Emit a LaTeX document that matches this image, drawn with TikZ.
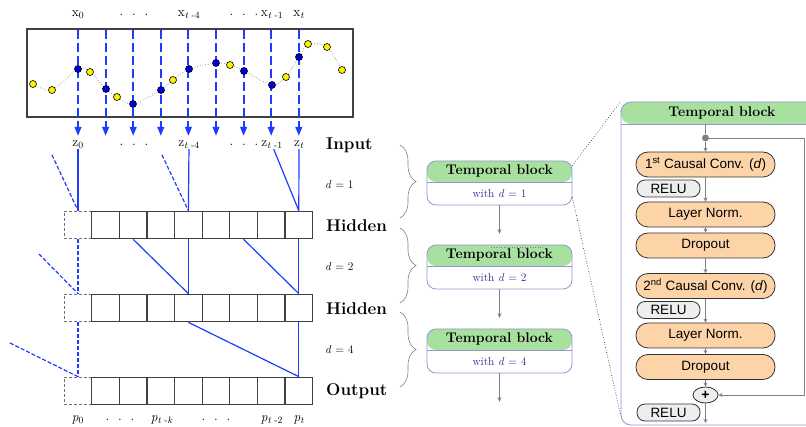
\documentclass[tikz,border=0pt]{standalone}
\usepackage{fontspec}
\newfontfamily\arialfont{Liberation Sans}
\usepackage{tikz}
\usetikzlibrary{arrows.meta,decorations.pathreplacing,shapes}

\definecolor{tbgreen}{RGB}{168,224,160}
\definecolor{tbline}{RGB}{150,150,205}
\definecolor{opfill}{RGB}{253,211,168}
\definecolor{relufill}{RGB}{238,238,238}
\definecolor{gridline}{RGB}{64,64,64}
\definecolor{subblue}{RGB}{40,40,150}
\definecolor{flowgray}{RGB}{128,128,128}
\definecolor{dotblue}{RGB}{0,0,220}
\definecolor{dotyellow}{RGB}{255,240,0}
\definecolor{lineblue}{RGB}{30,60,255}

\begin{document}
\begin{tikzpicture}[x=1pt,y=-1pt,
  cnode/.style={draw=gridline, line width=1.1pt, minimum size=27.6pt, inner sep=0pt},
  pnode/.style={cnode, draw=gridline!75, dash pattern=on 3pt off 2pt},
  bline/.style={lineblue, line width=1.2pt},
  bdash/.style={bline, dash pattern=on 4pt off 2pt},
  barrow/.style={lineblue, line width=2pt, dash pattern=on 9pt off 4pt, -{Triangle[width=6.5pt,length=9pt]}},
  lnode/.style={inner sep=0pt, font=\fontsize{13.5}{15}\selectfont},
  rnode/.style={anchor=west, inner sep=0pt, font=\fontsize{17}{20}\selectfont\bfseries},
  dnode/.style={anchor=west, inner sep=0pt, font=\fontsize{11.5}{14}\selectfont},
  dot/.style={circle, draw=black, line width=0.6pt, inner sep=0pt, minimum size=7pt},
  tblock/.style={draw=tbline, line width=0.8pt, rounded corners=9pt, inner sep=0pt,
    path picture={
      \fill[tbgreen] (path picture bounding box.north west) rectangle ([yshift=-#1]path picture bounding box.north east);
      \draw[tbline, line width=0.8pt] ([yshift=-#1]path picture bounding box.north west) -- ([yshift=-#1]path picture bounding box.north east);}},
  ttext/.style={inner sep=0pt, font=\fontsize{14}{16}\selectfont\bfseries},
  stext/.style={inner sep=0pt, text=subblue, font=\fontsize{11.5}{14}\selectfont},
  garrow/.style={flowgray, line width=0.9pt, -{Stealth[length=5pt,width=4pt]}},
  brace/.style={draw=flowgray, line width=0.6pt, decorate, decoration={brace, amplitude=16pt}},
  zline/.style={black, line width=0.6pt, dotted},
  opbox/.style={draw=black!80, line width=0.8pt, fill=opfill, rounded corners=12pt, minimum width=139pt, minimum height=25pt, inner sep=0pt, font=\arialfont\fontsize{13.5}{16}\selectfont},
  relubox/.style={draw=black!80, line width=0.8pt, fill=relufill, rounded corners=8pt, minimum width=63pt, minimum height=17pt, inner sep=0pt, font=\arialfont\fontsize{13.5}{16}\selectfont},
  flow/.style={flowgray, line width=0.8pt},
  farrow/.style={flow, -{Stealth[length=4pt,width=4pt]}}]

\clip (0,0) rectangle (806,427);

% input series
\draw[gridline, line width=1.1pt] (27,29) rectangle (353,117);
\draw[flowgray, line width=0.7pt, dotted] plot[smooth] coordinates {(33,84) (52,90) (78,69) (90,72) (106,89) (117,97) (133,104) (161,90) (173,80) (189,69) (216,63) (230,65) (244,71) (272,85) (286,77) (299,57) (308,44) (327,47) (342,70)};
\foreach \i in {0,...,8}
  \draw[barrow] (78+27.6*\i,30) -- (78+27.6*\i,136);
\foreach \x/\y/\c in {33/84/dotyellow, 52/90/dotyellow, 78/69/dotblue, 90/72/dotyellow, 106/89/dotblue, 117/97/dotyellow, 133/104/dotblue, 161/90/dotblue, 173/80/dotyellow, 189/69/dotblue, 216/63/dotblue, 230/65/dotyellow, 244/71/dotblue, 272/85/dotblue, 286/77/dotyellow, 299/57/dotblue, 308/44/dotyellow, 327/47/dotyellow, 342/70/dotyellow}
  \node[dot, fill=\c] at (\x,\y) {};

\node[lnode] (x0) at (78,15) {x\textsubscript{0}};
\node[lnode] (xd1) at (134,15) {.\ \ .\ \ .};
\node[lnode] (xt4) at (189,15) {x\textsubscript{\textit{t} -4}};
\node[lnode] (xd2) at (244,15) {.\ \ .\ \ .};
\node[lnode] (xt1) at (272,15) {x\textsubscript{\textit{t} -1}};
\node[lnode] (xt) at (299,15) {x\textsubscript{\textit{t}}};

\node[lnode] (z0) at (78,145) {z\textsubscript{0}};
\node[lnode] (zd1) at (134,145) {.\ \ .\ \ .};
\node[lnode] (zt4) at (189,145) {z\textsubscript{\textit{t} -4}};
\node[lnode] (zd2) at (244,145) {.\ \ .\ \ .};
\node[lnode] (zt1) at (272,145) {z\textsubscript{\textit{t} -1}};
\node[lnode] (zt) at (299,145) {z\textsubscript{\textit{t}}};

% layers
\foreach \r/\y in {1/225,2/308,3/391}{
  \node[pnode] (r\r-0) at (78,\y) {};
  \foreach \c in {1,...,8}
    \node[cnode] (r\r-\c) at (78+27.6*\c,\y) {};
}

\coordinate (f1a) at (52,155);
\coordinate (f1b) at (162,155);
\coordinate (f2a) at (39,254);
\coordinate (f3a) at (10,343);

\draw[bline] (z0) -- (r1-0.north);
\draw[bdash] (f1a) -- (r1-0.north);
\draw[bline] (zt4) -- (r1-4.north);
\draw[bdash] (f1b) -- (r1-4.north);
\draw[bline] (zt1) -- (r1-8.north);
\draw[bline] (zt) -- (r1-8.north);

\draw[bdash] (r1-0.south) -- (r2-0.north);
\draw[bdash] (f2a) -- (r2-0.north);
\draw[bline] (r1-2.south) -- (r2-4.north);
\draw[bline] (r1-4.south) -- (r2-4.north);
\draw[bline] (r1-6.south) -- (r2-8.north);
\draw[bline] (r1-8.south) -- (r2-8.north);

\draw[bdash] (r2-0.south) -- (r3-0.north);
\draw[bdash] (f3a) -- (r3-0.north);
\draw[bline] (r2-4.south) -- (r3-8.north);
\draw[bline] (r2-8.south) -- (r3-8.north);

\node[lnode] (p0) at (78,420) {\textit{p}\textsubscript{0}};
\node[lnode] (pd1) at (120,420) {.\ \ .\ \ .};
\node[lnode] (ptk) at (162,420) {\textit{p}\textsubscript{\textit{t} -\textit{k}}};
\node[lnode] (pd2) at (216,420) {.\ \ .\ \ .};
\node[lnode] (pt2) at (272,420) {\textit{p}\textsubscript{\textit{t} -2}};
\node[lnode] (pt) at (299,420) {\textit{p}\textsubscript{\textit{t}}};

\node[rnode] (inp) at (326,145) {Input};
\node[rnode] (hid1) at (326,226) {Hidden};
\node[rnode] (hid2) at (326,309) {Hidden};
\node[rnode] (outp) at (326,391) {Output};
\node[dnode] (d1) at (325,185) {\textit{d} = 1};
\node[dnode] (d2) at (325,267) {\textit{d} = 2};
\node[dnode] (d4) at (325,350) {\textit{d} = 4};

\draw[brace] (400,145) -- (400,218);
\draw[brace] (400,228) -- (400,303);
\draw[brace] (400,312) -- (400,387);

% stacked blocks
\foreach \i/\y/\d in {1/161/1, 2/245/2, 3/329/4}{
  \node[tblock=21pt, minimum width=145pt, minimum height=44pt] (tb\i) at (499.5,\y+22) {};
  \node[ttext] (tb\i t) at (499.5,\y+10.5) {Temporal block};
  \node[stext] (tb\i s) at (499.5,\y+32.5) {with \textit{d} = \d};
  \coordinate (tb\i o) at (499.5,\y+73);
  \draw[garrow] (tb\i) -- (tb\i o);
}
\draw[flowgray, line width=0.6pt, dotted] (491,247.5) -- (543,247.5);

% zoomed block
\node[tblock=22pt, rounded corners=10pt, minimum width=202pt, minimum height=323pt] (big) at (722,263.5) {};
\node[ttext] (bigt) at (722,113) {Temporal block};
\draw[zline] ([yshift=-5pt]tb1.north east) -- (big.north west);
\draw[zline] ([yshift=8pt]tb1.south east) -- ([yshift=10pt]big.south west);

\node[opbox] (conv1) at (705.5,164.5) {1\textsuperscript{st} Causal Conv. (\textit{d})};
\node[relubox] (relu1) at (668.5,188.5) {RELU};
\node[opbox] (ln1) at (705.5,214.5) {Layer Norm.};
\node[opbox] (do1) at (705.5,245.5) {Dropout};
\node[opbox] (conv2) at (705.5,286) {2\textsuperscript{nd} Causal Conv. (\textit{d})};
\node[relubox] (relu2) at (668.5,310) {RELU};
\node[opbox] (ln2) at (705.5,335.5) {Layer Norm.};
\node[opbox] (do2) at (705.5,367) {Dropout};
\node[ellipse, draw=black!80, line width=0.8pt, fill=relufill, minimum width=25pt, minimum height=16pt, inner sep=0pt, font=\arialfont\fontsize{14}{16}\selectfont\bfseries] (plus) at (705.5,395) {+};
\node[relubox] (relu3) at (668.5,412.5) {RELU};
\node[circle, fill=flowgray, inner sep=0pt, minimum size=7pt] (split) at (705.5,138) {};

\coordinate (bigin) at (705.5,124);
\coordinate (skip) at (804,395);
\coordinate (bigout) at (705.5,423);

\draw[flow] (bigin) -- (split);
\draw[farrow] (split) -- (conv1);
\draw[farrow] (conv1) -- (ln1);
\draw[farrow] (ln1) -- (do1);
\draw[farrow] (do1) -- (conv2);
\draw[farrow] (conv2) -- (ln2);
\draw[farrow] (ln2) -- (do2);
\draw[farrow] (do2) -- (plus);
\draw[farrow] (plus) -- (bigout);
\draw[farrow] (split.east) -| (skip) -- (plus.east);
\end{tikzpicture}
\end{document}
